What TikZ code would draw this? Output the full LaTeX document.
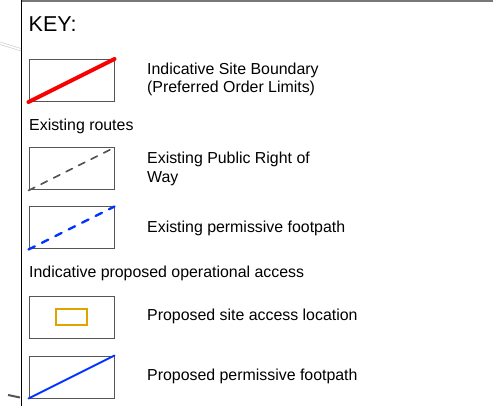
\documentclass[tikz,border=0pt]{standalone}
\usepackage{fontspec}
\setmainfont{Liberation Sans}
\usepackage{tikz}

\definecolor{boundaryred}{RGB}{250,0,0}
\definecolor{routegrey}{RGB}{85,85,85}
\definecolor{pathblue}{RGB}{0,51,255}
\definecolor{accessgold}{RGB}{222,165,0}
\definecolor{framegrey}{RGB}{120,120,120}

\tikzset{
	keybox/.style={draw=routegrey,line width=1pt,rectangle,inner sep=0pt,minimum width=85pt,minimum height=42pt},
	keytext/.style={anchor=west,align=left,inner sep=0pt,font=\fontsize{15.9}{18.5}\selectfont},
}

\begin{document}
\begin{tikzpicture}[x=1pt,y=-1pt]
			\useasboundingbox (0,0) rectangle (493,406);
			
			% map remnants and frame
			\draw [white!82!black,line width=0.6pt] (0,42) -- (21,48.5);
			\draw [white!82!black,line width=0.6pt] (0,44.5) -- (21,51);
			\draw [routegrey,line width=2pt] (8,395) -- (20,397.5);
			\draw [framegrey,line width=2pt] (21,1.5) -- (493,1.5);
			\draw [black,line width=1pt] (21,0) -- (21,406);
			
			\node [anchor=west,inner sep=0pt,font=\fontsize{21.5}{25}\selectfont] (key) at (28.5,24.5) {KEY:};
			
			\begin{scope}[every node/.style={keybox}]
				\node (boundary) at (71.5,80.5) {};
				\node (prow) at (71.5,169) {};
				\node (perm) at (71.5,228) {};
				\node (site) at (71.5,317.5) {};
				\node (newpath) at (71.5,377) {};
			\end{scope}
			
			\node [draw=accessgold,line width=2pt,inner sep=0pt,minimum width=31pt,minimum height=16pt] (gate) at (site) {};
			
			\begin{scope}[line cap=round]
				\draw [boundaryred,line width=4pt] (boundary.south west) -- (boundary.north east);
				\draw [routegrey,line width=1.6pt,dash pattern=on 7pt off 7pt] (prow.south west) -- (prow.north east);
				\draw [pathblue,line width=2.4pt,dash pattern=on 7pt off 8pt] (perm.south west) -- (perm.north east);
				\draw [pathblue,line width=2pt] (newpath.south west) -- (newpath.north east);
			\end{scope}
			
			\begin{scope}[every node/.style={keytext}]
				\node (t1) at (147,79.5) {Indicative Site Boundary\\(Preferred Order Limits)};
				\node (h1) at (29,126.5) {Existing routes};
				\node (t2) at (147,169) {Existing Public Right of\\Way};
				\node (t3) at (147,228.5) {Existing permissive footpath};
				\node (h2) at (29,273.5) {Indicative proposed operational access};
				\node (t4) at (147,316.5) {Proposed site access location};
				\node (t5) at (147,376.5) {Proposed permissive footpath};
			\end{scope}
		\end{tikzpicture}
\end{document}
